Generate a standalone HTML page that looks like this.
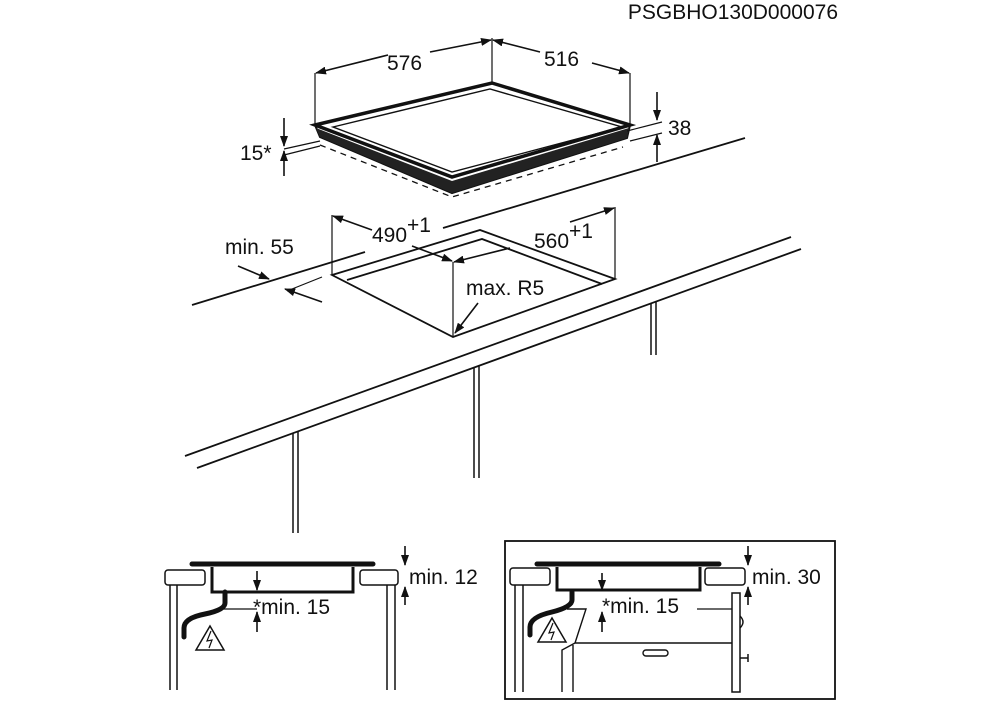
<!DOCTYPE html>
<html><head><meta charset="utf-8"><style>
html,body{margin:0;padding:0;background:#fff;}
svg{display:block;font-family:"Liberation Sans",sans-serif;}
text{fill:#111;font-size:21px;}
</style></head><body>
<svg width="1004" height="704" viewBox="0 0 1004 704" xmlns="http://www.w3.org/2000/svg">
<defs>
<marker id="a" markerWidth="11" markerHeight="8" refX="10" refY="4" orient="auto" markerUnits="userSpaceOnUse"><path d="M0,0 L11,4 L0,8 Z" fill="#111"/></marker>
</defs>
<g stroke="#111" fill="none" stroke-width="1.6">
<text x="838" y="19" text-anchor="end" stroke="none" font-size="20">PSGBHO130D000076</text>

<!-- hob -->
<polygon points="315,125 492,83 630,125 452,177" fill="#fff" stroke-width="3.5"/>
<polygon points="333,127 490,89 622,127 452,172" stroke-width="1.4"/>
<path d="M315,125 L320,137 L452,193 L627,138 L630,125" stroke-width="2"/>
<polygon points="316,128 452,181 629,128 627,138 452,193 320,137" fill="#222" stroke="none"/>
<path d="M320,145 L452,197 L623,147" stroke-dasharray="6,5" stroke-width="1.3"/>
<!-- dims top -->
<path d="M315,125 V73 M492,83 V38 M630,125 V73" stroke-width="1.2"/>
<path d="M388,55 L316,73" marker-end="url(#a)"/><path d="M430,52 L491,40" marker-end="url(#a)"/>
<path d="M540,52 L493,40" marker-end="url(#a)"/><path d="M592,63 L629,73" marker-end="url(#a)"/>
<text x="387" y="70" stroke="none" font-size="22">576</text>
<text x="544" y="66" stroke="none" font-size="22">516</text>
<path d="M627,131 L662,122 M630,141 L662,133" stroke-width="1.2"/>
<path d="M657,92 V120" marker-end="url(#a)"/><path d="M657,162 V135" marker-end="url(#a)"/>
<text x="668" y="135" stroke="none" font-size="22">38</text>
<path d="M284,118 V146" marker-end="url(#a)"/><path d="M284,176 V151" marker-end="url(#a)"/>
<path d="M284,149 L320,141 M284,155 L320,146" stroke-width="1.2"/>
<text x="240" y="160" stroke="none">15*</text>

<!-- worktop -->
<path d="M192,305 L365,252 M443,228 L745,138" stroke-width="1.8"/>
<path d="M185,456 L791,237 M197,468 L801,249" stroke-width="1.8"/>
<path d="M293,433 V533 M298,431 V533 M474,367 V478 M479,365 V478 M651,303 V355 M656,301 V355" stroke-width="1.5"/>
<!-- cutout -->
<path d="M332,275 L480,230 L615,279 L453,337 Z" stroke-width="1.8"/>
<path d="M347,280 L482,239 L602,284" stroke-width="1.8"/>
<path d="M453,262 V337" stroke-width="1.2"/>
<path d="M332,275 V215 M615,279 V207" stroke-width="1.2"/>
<path d="M372,230 L333,216" marker-end="url(#a)"/><path d="M412,246 L452,261" marker-end="url(#a)"/>
<path d="M510,248 L454,262" marker-end="url(#a)"/><path d="M570,222 L614,208" marker-end="url(#a)"/>
<text x="372" y="242" stroke="none" font-size="22">490</text><text x="407" y="232" stroke="none" font-size="13">+1</text>
<text x="534" y="248" stroke="none" font-size="22">560</text><text x="569" y="238" stroke="none" font-size="13">+1</text>
<text x="466" y="295" stroke="none">max. R5</text>
<path d="M478,303 L455,333" marker-end="url(#a)"/>
<text x="225" y="254" stroke="none">min. 55</text>
<path d="M238,266 L269,279" marker-end="url(#a)"/>
<path d="M322,302 L285,289" marker-end="url(#a)"/>
<path d="M287,291 L322,277" stroke-width="1.2"/>

<!-- bottom left -->
<rect x="165" y="570" width="40" height="15" rx="3" stroke-width="1.5"/>
<rect x="360" y="570" width="38" height="15" rx="3" stroke-width="1.5"/>
<path d="M170,585 V690 M177,585 V690 M387,585 V690 M395,585 V690" stroke-width="1.5"/>
<path d="M192,564 H373" stroke-width="5" stroke-linecap="round"/>
<path d="M212,567 V592 H353 V567" stroke-width="3"/>
<path d="M225,592 V603 Q225,610 205,614 Q184,618 184,628 V637" stroke-width="5" stroke-linecap="round"/>
<path d="M210,626 L224,650 L196,650 Z" stroke-width="1.5"/>
<path d="M211,631 L207,641 L212,640 L209,648" stroke-width="1.2"/>
<path d="M220,609 H257" stroke-width="1.2"/>
<path d="M257,571 V590" marker-end="url(#a)"/><path d="M257,632 V612" marker-end="url(#a)"/>
<text x="253" y="614" stroke="none">*min. 15</text>
<path d="M405,546 V565" marker-end="url(#a)"/><path d="M405,605 V587" marker-end="url(#a)"/>
<text x="409" y="584" stroke="none">min. 12</text>

<!-- bottom right -->
<rect x="505" y="541" width="330" height="158" stroke-width="1.8"/>
<rect x="510" y="568" width="40" height="17" rx="3" stroke-width="1.5"/>
<rect x="705" y="568" width="40" height="17" rx="3" stroke-width="1.5"/>
<path d="M515,585 V692 M523,585 V692" stroke-width="1.5"/>
<path d="M537,564 H719" stroke-width="5" stroke-linecap="round"/>
<path d="M557,567 V590 H700 V567" stroke-width="3"/>
<path d="M572,592 V600 Q572,607 552,612 Q530,617 530,627 V635" stroke-width="5" stroke-linecap="round"/>
<path d="M552,618 L566,642 L538,642 Z" stroke-width="1.5"/>
<path d="M553,623 L549,633 L554,632 L551,640" stroke-width="1.2"/>
<path d="M567,609 H586 L575,643 H732 M575,643 L562,650 V692 M573,645 V692" stroke-width="1.4"/>
<rect x="643" y="650" width="25" height="6" rx="3" stroke-width="1.4"/>
<path d="M697,609 H732" stroke-width="1.3"/>
<rect x="732" y="593" width="8" height="99" stroke-width="1.5"/>
<path d="M740,616 Q746,622 740,628" stroke-width="1.4"/>
<path d="M740,658 H748 M748,654 V662" stroke-width="1.5"/>
<path d="M602,573 V590" marker-end="url(#a)"/><path d="M602,632 V612" marker-end="url(#a)"/>
<text x="602" y="613" stroke="none">*min. 15</text>
<path d="M748,546 V565" marker-end="url(#a)"/><path d="M748,605 V587" marker-end="url(#a)"/>
<text x="752" y="584" stroke="none">min. 30</text>
</g>
</svg>
</body></html>
